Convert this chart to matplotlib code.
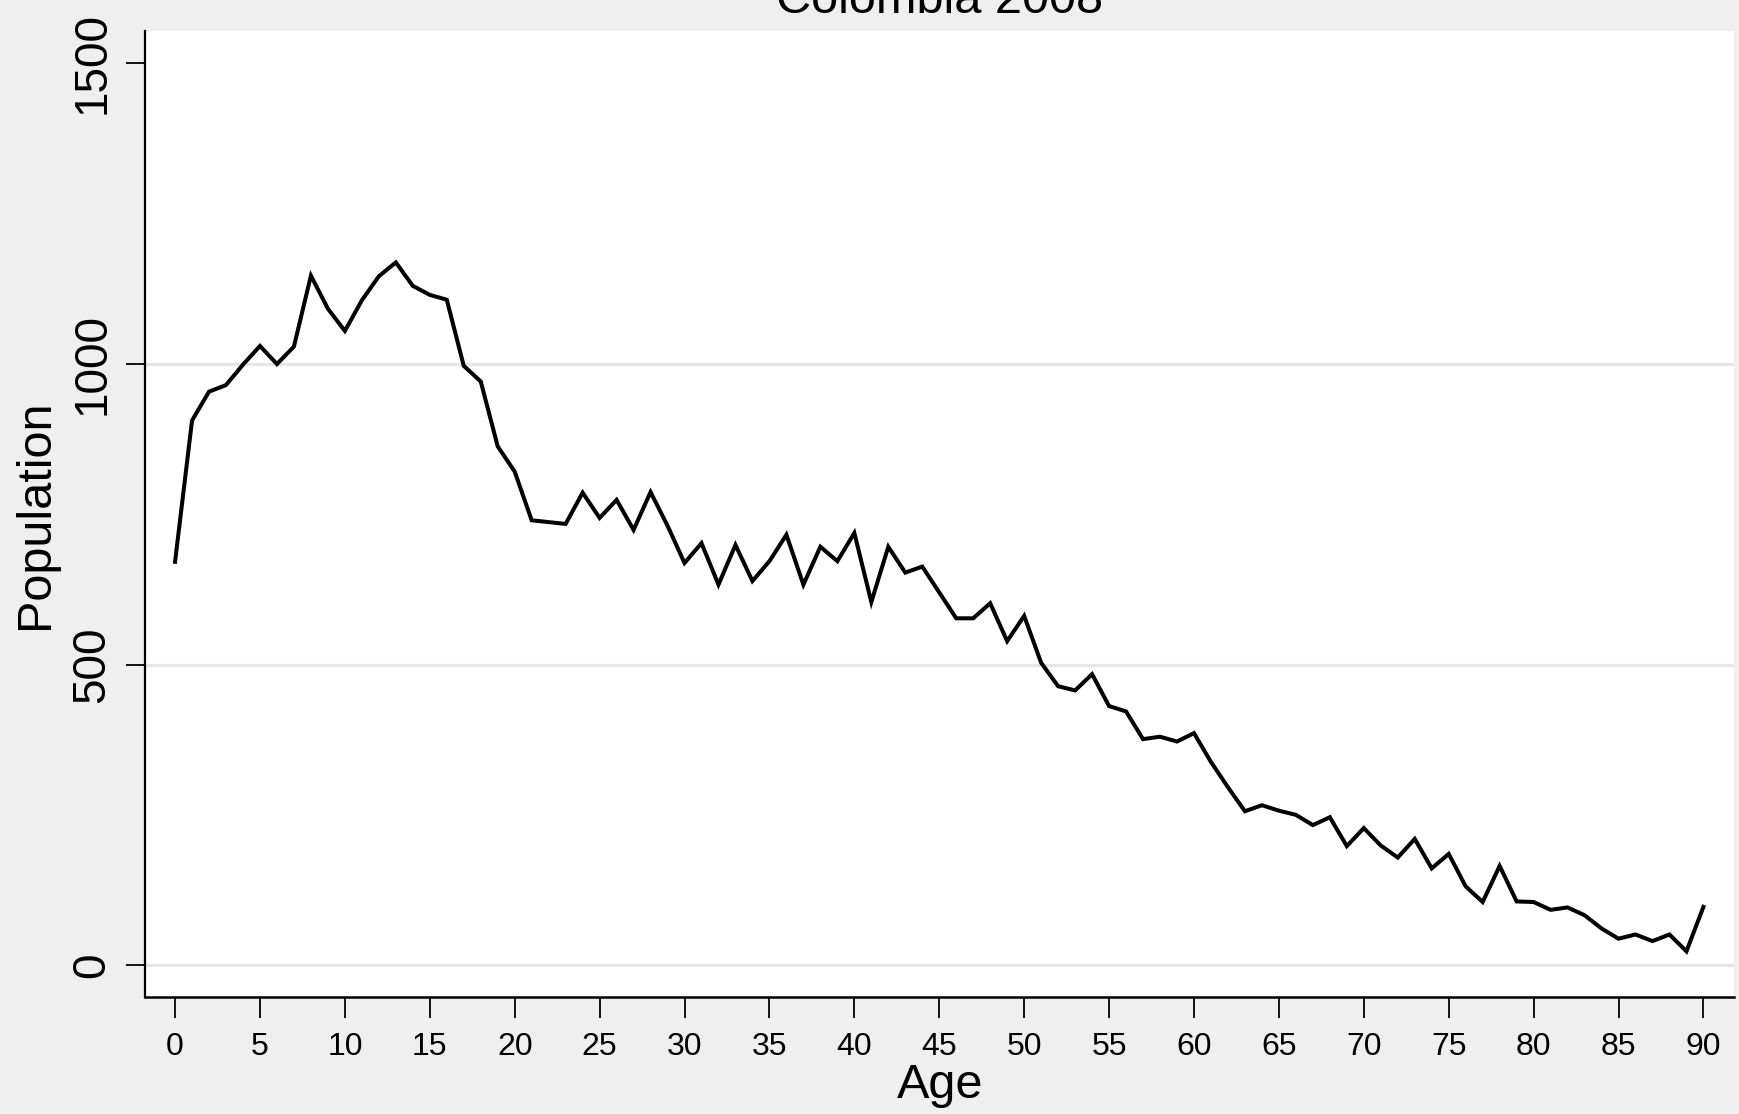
import matplotlib
matplotlib.use("Agg")
import matplotlib.pyplot as plt

plt.rcParams['font.family'] = ['Liberation Sans', 'DejaVu Sans']

title = "Colombia 2008"
x_label = "Age"
y_label = "Population"

ages = list(range(0, 91))
population = [
    671, 906, 954, 965, 999, 1030, 1000, 1029, 1147, 1092,
    1055, 1106, 1146, 1169, 1130, 1115, 1107, 997, 971, 863,
    821, 740, 737, 734, 786, 744, 774, 724, 787, 731,
    669, 702, 633, 699, 639, 672, 716, 633, 696, 672,
    719, 604, 696, 653, 663, 620, 577, 577, 602, 539,
    581, 503, 464, 457, 484, 431, 422, 376, 380, 372,
    386, 338, 296, 256, 266, 257, 250, 233, 246, 198,
    228, 199, 179, 210, 161, 185, 131, 105, 165, 106,
    105, 92, 96, 83, 61, 44, 51, 40, 51, 23,
    97,
]

x_ticks = list(range(0, 91, 5))
y_ticks = [0, 500, 1000, 1500]
grid_vals = [0, 500, 1000]

W, H = 1739, 1114
fig = plt.figure(figsize=(W / 100, H / 100), dpi=100, facecolor='#EFEFEF')
left, right, top, bottom = 145 / W, 1734 / W, 1 - 31 / H, 1 - 997 / H
ax = fig.add_axes([left, bottom, right - left, top - bottom])
ax.set_facecolor('white')

for g in grid_vals:
    ax.axhline(g, color='#E6E6E6', lw=2.4, zorder=1)

ax.plot(ages, population, color='black', lw=2.9, zorder=3, solid_joinstyle='miter')

ax.set_xlim(-1.77, 91.8)
ax.set_ylim(-53, 1554)

ax.set_xticks(x_ticks)
ax.set_xticklabels([str(v) for v in x_ticks])
ax.set_yticks(y_ticks)
ax.set_yticklabels([str(v) for v in y_ticks], rotation=90, va='center')

for s in ['top', 'right']:
    ax.spines[s].set_visible(False)
ax.spines['left'].set_linewidth(1.6)
ax.spines['bottom'].set_linewidth(1.8)

ax.tick_params(axis='x', length=15, width=1.3, labelsize=23, pad=10, color='black')
ax.tick_params(axis='y', length=14, width=1.3, labelsize=33, pad=8, color='black')

ax.set_xlabel(x_label, fontsize=35)
ax.xaxis.set_label_coords(0.5003, -0.0911)
ax.xaxis.label.set_va('center')
ax.set_ylabel(y_label, fontsize=35)
ax.yaxis.set_label_coords(-0.069, 0.5)
ax.yaxis.label.set_va('center')

fig.text(0.5403, 1 - 13 / H, title, ha='center', va='baseline', fontsize=35)

fig.savefig('out.png', dpi=100, facecolor=fig.get_facecolor())
